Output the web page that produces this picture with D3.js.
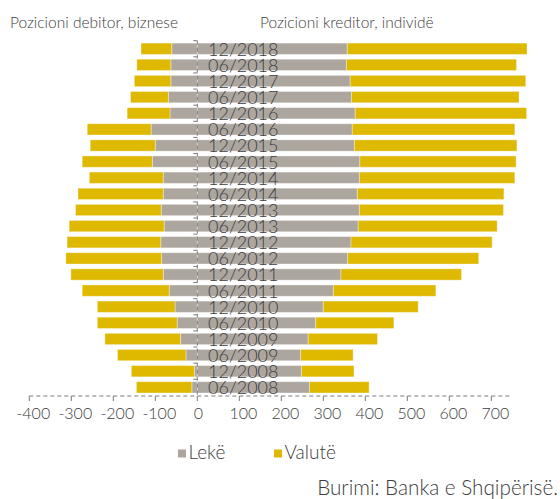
<!DOCTYPE html>
<html><head><meta charset="utf-8">
<script src="https://cdn.jsdelivr.net/npm/d3@7"></script>
<style>body{margin:0;background:#fff}svg{display:block}</style>
</head><body>
<script>
const categories = ["12/2018","06/2018","12/2017","06/2017","12/2016","06/2016","12/2015","06/2015","12/2014","06/2014","12/2013","06/2013","12/2012","06/2012","12/2011","06/2011","12/2010","06/2010","12/2009","06/2009","12/2008","06/2008"];
const bizLeke   = [-61,-63,-63,-69,-65,-110,-100,-107,-81,-81,-86,-79,-87,-85,-81,-67,-53,-48,-40,-27,-7,-13];
const bizValute = [-73,-81,-87,-90,-102,-152,-155,-167,-176,-203,-204,-226,-223,-228,-220,-207,-185,-190,-180,-163,-150,-132];
const indLeke   = [357,355,364,367,376,369,374,387,386,381,386,383,366,358,342,324,300,282,264,246,248,267];
const indValute = [428,405,418,399,408,387,387,372,370,349,343,331,336,312,287,244,226,186,165,125,125,142];
const xTicks = [-400,-300,-200,-100,0,100,200,300,400,500,600,700];
const seriesNames = ["Lekë","Valutë"];
const colors = ["#aca69f","#dfb800"];

const W=560,H=499;
const font="Lato, 'Open Sans', sans-serif";
const txt="#3c3c3c";
const svg=d3.select("body").append("svg").attr("width",W).attr("height",H)
  .style("font-weight",300);

const x=d3.scaleLinear().domain([-400,750]).range([29.3,512.3]);
const y=d3.scaleBand().domain(categories).range([40.7,395.4]).paddingInner(0.3).paddingOuter(0.15);

const rows=categories.map((c,i)=>({c,
  segs:[
    {s:0,x0:0,x1:bizLeke[i]},
    {s:1,x0:bizLeke[i],x1:bizLeke[i]+bizValute[i]},
    {s:0,x0:0,x1:indLeke[i]},
    {s:1,x0:indLeke[i],x1:indLeke[i]+indValute[i]}
  ]}));

const g=svg.append("g");
rows.forEach(r=>{
  g.selectAll(null).data(r.segs).enter().append("rect")
   .attr("x",d=>x(Math.min(d.x0,d.x1)))
   .attr("width",d=>Math.abs(x(d.x1)-x(d.x0)))
   .attr("y",y(r.c)).attr("height",y.bandwidth())
   .attr("fill",d=>colors[d.s])
   .attr("stroke","#fff").attr("stroke-opacity",0.35).attr("stroke-width",1);
});

// x axis
const axY=396;
svg.append("line").attr("x1",x(-400)).attr("x2",x(750)).attr("y1",axY).attr("y2",axY)
  .attr("stroke","#7a7a7a").attr("stroke-dasharray","4,3");
svg.selectAll(".xt").data(xTicks).enter().append("line")
  .attr("x1",d=>x(d)).attr("x2",d=>x(d)).attr("y1",axY).attr("y2",axY+5)
  .attr("stroke","#7a7a7a");
svg.selectAll(".xl").data(xTicks).enter().append("text")
  .attr("x",d=>x(d)+(d===0?1:4)).attr("y",418.5)
  .attr("text-anchor","middle").attr("font-family",font).attr("font-size",16)
  .attr("fill",txt).text(d=>d);

// y axis dashed
svg.append("line").attr("x1",x(0)).attr("x2",x(0)).attr("y1",40.7).attr("y2",axY)
  .attr("stroke","#7a7a7a").attr("stroke-dasharray","4,3");
const bounds=categories.map(c=>y(c)-y.step()*y.paddingInner()/2);
svg.selectAll(".yt").data(bounds).enter().append("line")
  .attr("x1",x(0)-4).attr("x2",x(0)).attr("y1",d=>d).attr("y2",d=>d)
  .attr("stroke","#7a7a7a");

// category labels
svg.selectAll(".cl").data(categories).enter().append("text")
  .attr("x",208).attr("y",d=>y(d)+y.bandwidth()/2)
  .attr("dominant-baseline","central")
  .attr("font-family",font).attr("font-size",18).attr("fill",txt).text(d=>d);

// titles
svg.append("text").attr("x",10).attr("y",28).attr("font-family",font).attr("font-size",15.5)
  .attr("fill",txt).text("Pozicioni debitor, biznese");
svg.append("text").attr("x",260).attr("y",28).attr("font-family",font).attr("font-size",15.5)
  .attr("fill",txt).text("Pozicioni kreditor, individë");

// legend
const lx=[178,274];
seriesNames.forEach((n,i)=>{
  svg.append("rect").attr("x",lx[i]).attr("y",449.5).attr("width",8).attr("height",8).attr("fill",colors[i]);
  svg.append("text").attr("x",lx[i]+10.5).attr("y",459).attr("font-family",font).attr("font-size",19)
    .attr("fill",txt).text(n);
});

// source
svg.append("text").attr("x",558).attr("y",495).attr("text-anchor","end").attr("font-family",font)
  .attr("font-size",20.7).attr("fill",txt).text("Burimi: Banka e Shqipërisë.");
</script>
</body></html>
